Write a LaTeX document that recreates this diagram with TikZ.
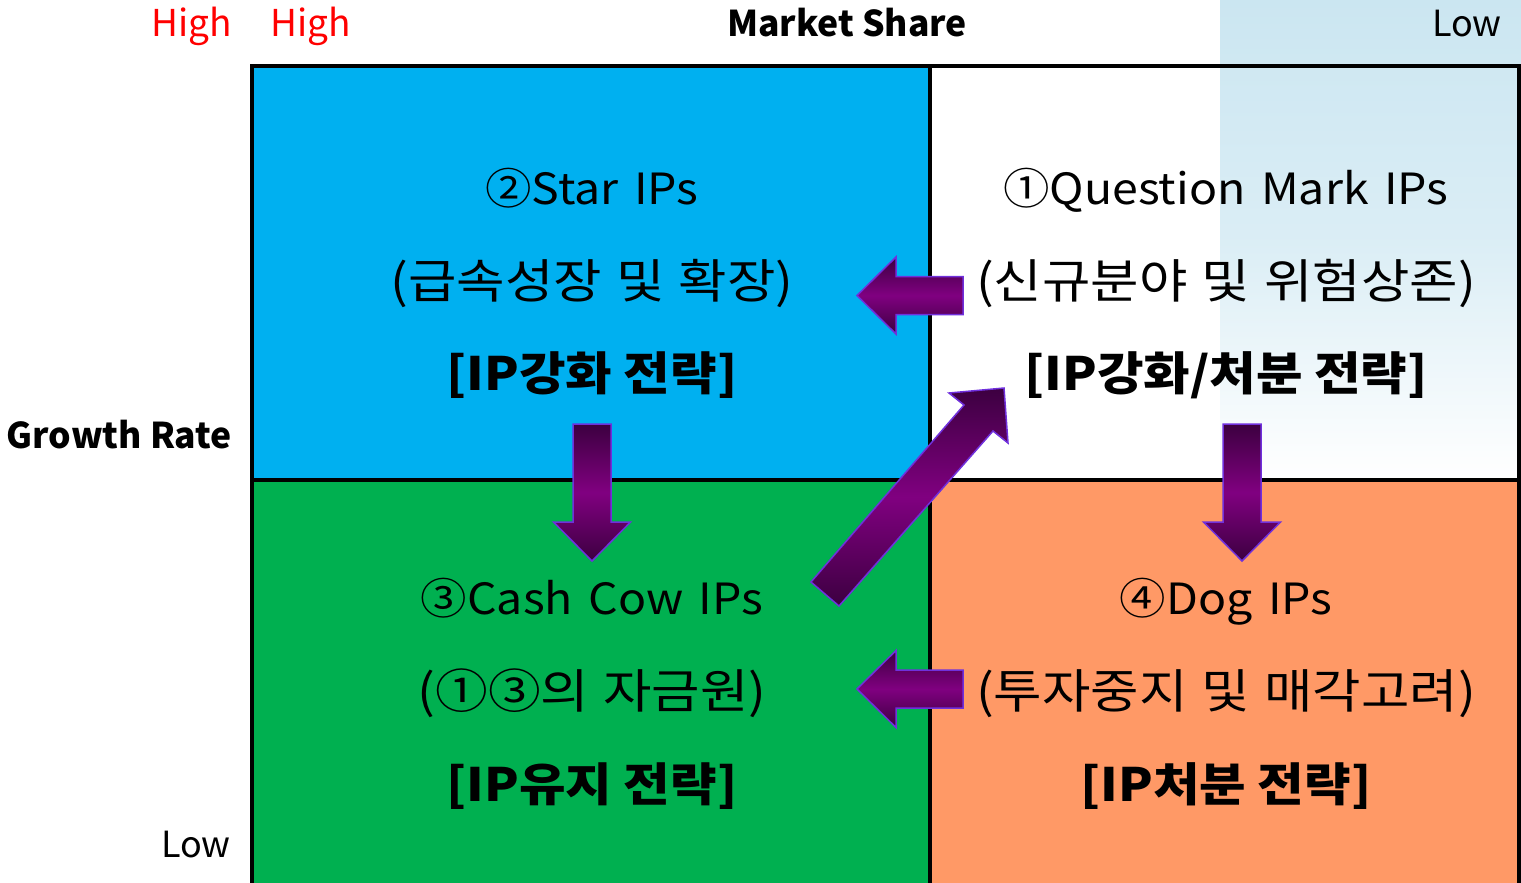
\documentclass[tikz,border=0pt]{standalone}
\usepackage{fontspec}
\setmainfont{Noto Sans CJK KR}
\newfontfamily\latinquad{Noto Sans CJK KR}[FakeStretch=1.08,WordSpace=1.5]
\newfontfamily\hangulquad{Noto Sans CJK KR}[FakeStretch=1.12,WordSpace=1.2]
\newfontfamily\planquad{Noto Sans CJK KR}[FakeStretch=1.1]
\usepackage{tikz}
\definecolor{starblue}{RGB}{0,176,240}
\definecolor{cowgreen}{RGB}{0,176,80}
\definecolor{dogorange}{RGB}{255,153,102}
\definecolor{qmblue}{RGB}{203,230,241}
\definecolor{arrowdark}{RGB}{60,0,64}
\definecolor{arrowmid}{RGB}{128,0,128}
\definecolor{arrowline}{RGB}{112,48,220}

\begin{document}
\begin{tikzpicture}[x=1pt,y=1pt]
\tikzstyle{every node}+=[inner sep=0pt]
\tikzstyle{titleline}=[anchor=base,font=\latinquad\fontsize{43}{50}\selectfont]
\tikzstyle{noteline}=[anchor=base,font=\hangulquad\fontsize{47}{54}\selectfont]
\tikzstyle{planline}=[anchor=base,font=\planquad\bfseries\fontsize{46}{54}\selectfont]
\tikzstyle{axistext}=[anchor=base,font=\fontsize{37}{44}\selectfont]
\tikzstyle{axisbold}=[anchor=base,font=\bfseries\fontsize{35.5}{42}\selectfont]
\tikzstyle{arrowbody}=[draw=arrowline,line width=1.5,top color=arrowdark,bottom color=arrowdark,middle color=arrowmid]
\useasboundingbox (0,0) rectangle (1521,-883);
\clip (0,0) rectangle (1521,-883);
\fill [starblue] (252,-66) rectangle (930,-480);
\fill [cowgreen] (252,-480) rectangle (930,-900);
\fill [dogorange] (930,-480) rectangle (1519,-900);
\fill [white] (930,-66) rectangle (1519,-480);
\shade [top color=qmblue,bottom color=white,middle color=qmblue!70] (1220,0) rectangle (1521,-480);
\draw [line width=4] (252,-66) rectangle (1519,-900);
\draw [line width=4] (930,-66) -- (930,-900);
\draw [line width=4] (252,-480) -- (1519,-480);
\draw [arrowbody] (963,-276.5) -- (896,-276.5) -- (896,-257) -- (857,-295.5) -- (896,-334) -- (896,-314.5) -- (963,-314.5) -- cycle;
\draw [arrowbody] (963,-670) -- (896,-670) -- (896,-650.5) -- (857,-689) -- (896,-727.5) -- (896,-708) -- (963,-708) -- cycle;
\draw [arrowbody] (573,-424) -- (573,-522) -- (553.5,-522) -- (592,-561) -- (630.5,-522) -- (611,-522) -- (611,-424) -- cycle;
\draw [arrowbody] (1223,-424) -- (1223,-522) -- (1203.5,-522) -- (1242,-561) -- (1280.5,-522) -- (1261,-522) -- (1261,-424) -- cycle;
\draw [arrowbody] (839,-606) -- (993,-431) -- (1008,-443) -- (1004,-388) -- (949,-393) -- (964,-405) -- (811,-582) -- cycle;
\node [axistext,red] (high1) at (192,-37) {High};
\node [axistext,red] (high2) at (311,-37) {High};
\node [axisbold] (share) at (847,-37) {Market Share};
\node [axistext,anchor=base east,font=\fontsize{36}{44}\selectfont] (lowtop) at (1502,-37) {Low};
\node [axisbold,anchor=base east] (growth) at (232,-448) {Growth Rate};
\node [axistext,anchor=base east,font=\fontsize{36}{44}\selectfont] (lowleft) at (231,-857) {Low};
\node [titleline] (star1) at (592,-204) {②Star IPs};
\node [noteline] (star2) at (592,-298) {(급속성장 및 확장)};
\node [planline] (star3) at (592,-390) {[IP강화 전략]};
\node [titleline] (qm1) at (1226,-204) {①Question Mark IPs};
\node [noteline] (qm2) at (1226,-298) {(신규분야 및 위험상존)};
\node [planline] (qm3) at (1226,-390) {[IP강화/처분 전략]};
\node [titleline] (cow1) at (592,-614) {③Cash Cow IPs};
\node [noteline] (cow2) at (592,-708) {(①③의 자금원)};
\node [planline] (cow3) at (592,-801) {[IP유지 전략]};
\node [titleline] (dog1) at (1226,-614) {④Dog IPs};
\node [noteline] (dog2) at (1226,-708) {(투자중지 및 매각고려)};
\node [planline] (dog3) at (1226,-801) {[IP처분 전략]};
\end{tikzpicture}
\end{document}
